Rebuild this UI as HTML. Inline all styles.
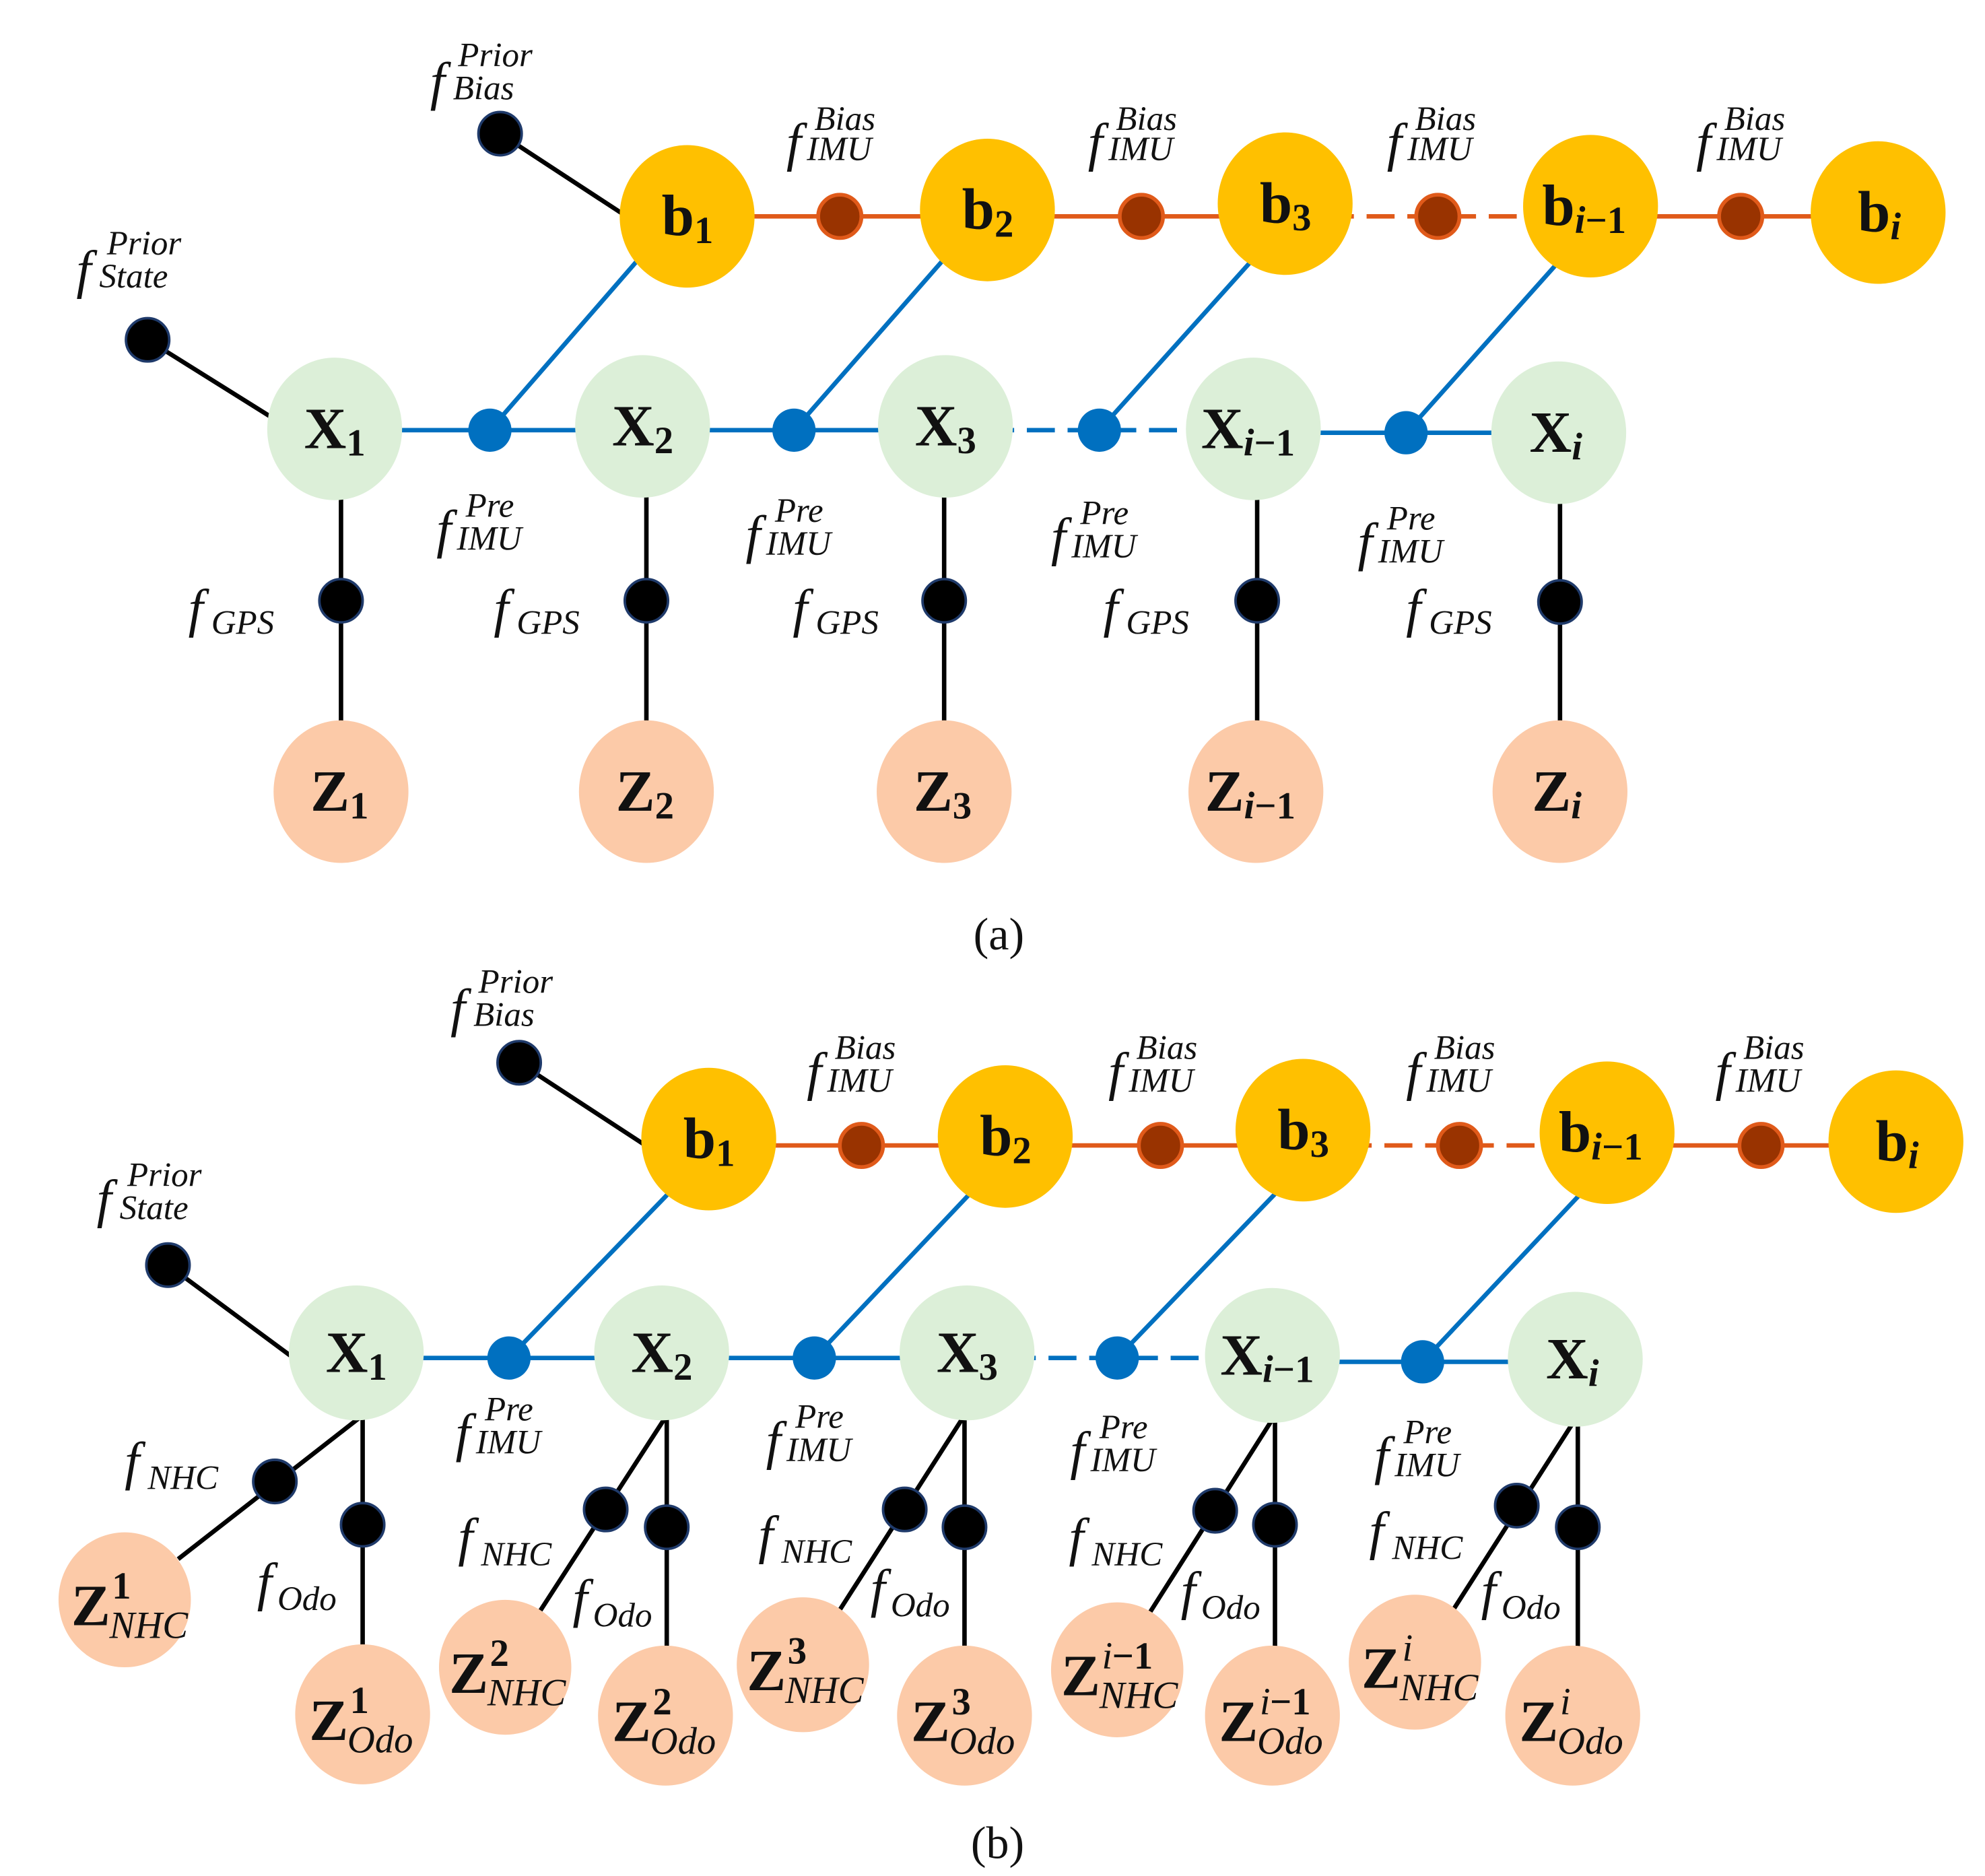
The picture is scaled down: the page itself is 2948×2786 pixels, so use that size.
<!DOCTYPE html>
<html><head><meta charset="utf-8"><style>
html,body{margin:0;padding:0;background:#fff;}
svg{display:block;}
.f{font-family:"Liberation Serif",serif;font-style:italic;font-size:42px;fill:#111;}
.s{font-family:"Liberation Serif",serif;font-style:italic;font-size:27px;fill:#111;}
.n{font-family:"Liberation Serif",serif;font-weight:bold;font-size:46px;fill:#111;}
.ns{font-family:"Liberation Serif",serif;font-weight:bold;font-size:30px;fill:#111;}
.nsi{font-family:"Liberation Serif",serif;font-style:italic;font-size:30px;fill:#111;}
.cap{font-family:"Liberation Serif",serif;font-size:36px;fill:#111;}
</style></head><body>
<svg width="2948" height="2786" viewBox="0 0 1560 1474" preserveAspectRatio="none" xmlns="http://www.w3.org/2000/svg">
<!-- ===== (a) ===== -->
<g stroke-width="3.5" fill="none">
<line x1="540" y1="170" x2="897" y2="170" stroke="#e05a1a"/>
<line x1="897" y1="170" x2="1010" y2="170" stroke="#e05a1a"/>
<line x1="1010" y1="170" x2="1250" y2="170" stroke="#e05a1a" stroke-dasharray="22,10"/>
<line x1="1250" y1="170" x2="1476" y2="170" stroke="#e05a1a"/>
<line x1="263" y1="338" x2="743" y2="338" stroke="#0070c0"/>
<line x1="743" y1="338" x2="985" y2="338" stroke="#0070c0" stroke-dasharray="22,10"/>
<line x1="985" y1="340" x2="1225" y2="340" stroke="#0070c0"/>
<line x1="385" y1="338" x2="505" y2="200" stroke="#0070c0"/>
<line x1="624" y1="338" x2="745" y2="200" stroke="#0070c0"/>
<line x1="864" y1="338" x2="988" y2="200" stroke="#0070c0"/>
<line x1="1105" y1="340" x2="1230" y2="200" stroke="#0070c0"/>
<line x1="393" y1="105" x2="500" y2="175" stroke="#000"/>
<line x1="116" y1="267" x2="220" y2="332" stroke="#000"/>
<line x1="268" y1="338" x2="268" y2="622" stroke="#000"/>
<line x1="508" y1="338" x2="508" y2="622" stroke="#000"/>
<line x1="742" y1="338" x2="742" y2="622" stroke="#000"/>
<line x1="988" y1="338" x2="988" y2="622" stroke="#000"/>
<line x1="1226" y1="340" x2="1226" y2="622" stroke="#000"/>
</g>
<g fill="#ffc000">
<ellipse cx="540" cy="170" rx="53" ry="56"/><ellipse cx="776" cy="165" rx="53" ry="56"/><ellipse cx="1010" cy="160" rx="53" ry="56"/><ellipse cx="1250" cy="162" rx="53" ry="56"/><ellipse cx="1476" cy="167" rx="53" ry="56"/>
</g>
<g fill="#dcefd8">
<ellipse cx="263" cy="337" rx="53" ry="56"/><ellipse cx="505" cy="335" rx="53" ry="56"/><ellipse cx="743" cy="335" rx="53" ry="56"/><ellipse cx="985" cy="337" rx="53" ry="56"/><ellipse cx="1225" cy="340" rx="53" ry="56"/>
</g>
<g fill="#fccaa8">
<ellipse cx="268" cy="622" rx="53" ry="56"/><ellipse cx="508" cy="622" rx="53" ry="56"/><ellipse cx="742" cy="622" rx="53" ry="56"/><ellipse cx="987" cy="622" rx="53" ry="56"/><ellipse cx="1226" cy="622" rx="53" ry="56"/>
</g>
<g fill="#993300" stroke="#e05a1a" stroke-width="3">
<circle cx="660" cy="170" r="17"/><circle cx="897" cy="170" r="17"/><circle cx="1130" cy="170" r="17"/><circle cx="1368" cy="170" r="17"/>
</g>
<g fill="#0070c0">
<circle cx="385" cy="338" r="17"/><circle cx="624" cy="338" r="17"/><circle cx="864" cy="338" r="17"/><circle cx="1105" cy="340" r="17"/>
</g>
<g fill="#000" stroke="#1f3a6a" stroke-width="2">
<circle cx="393" cy="105" r="17"/><circle cx="116" cy="267" r="17"/>
<circle cx="268" cy="472" r="17"/><circle cx="508" cy="472" r="17"/><circle cx="742" cy="472" r="17"/><circle cx="988" cy="472" r="17"/><circle cx="1226" cy="473" r="17"/>
</g>
<!-- node labels (a) -->
<g transform="translate(-6,3)">
<text class="n" x="526" y="182">b<tspan class="ns" dy="6">1</tspan></text>
<text class="n" x="762" y="177">b<tspan class="ns" dy="6">2</tspan></text>
<text class="n" x="996" y="172">b<tspan class="ns" dy="6">3</tspan></text>
<text class="n" x="1218" y="174">b<tspan class="nsi" dy="6">i</tspan><tspan class="ns">−1</tspan></text>
<text class="n" x="1466" y="179">b<tspan class="nsi" dy="6">i</tspan></text>
<text class="n" x="245" y="349">X<tspan class="ns" dy="6">1</tspan></text>
<text class="n" x="487" y="347">X<tspan class="ns" dy="6">2</tspan></text>
<text class="n" x="725" y="347">X<tspan class="ns" dy="6">3</tspan></text>
<text class="n" x="950" y="349">X<tspan class="nsi" dy="6">i</tspan><tspan class="ns">−1</tspan></text>
<text class="n" x="1208" y="352">X<tspan class="nsi" dy="6">i</tspan></text>
<text class="n" x="250" y="634">Z<tspan class="ns" dy="6">1</tspan></text>
<text class="n" x="490" y="634">Z<tspan class="ns" dy="6">2</tspan></text>
<text class="n" x="724" y="634">Z<tspan class="ns" dy="6">3</tspan></text>
<text class="n" x="953" y="634">Z<tspan class="nsi" dy="6">i</tspan><tspan class="ns">−1</tspan></text>
<text class="n" x="1210" y="634">Z<tspan class="nsi" dy="6">i</tspan></text>
</g>
<!-- factor labels (a) -->
<text class="f" x="338" y="78">f</text><text class="s" x="360" y="52">Prior</text><text class="s" x="356" y="78">Bias</text>
<text class="f" x="60" y="226">f</text><text class="s" x="84" y="200">Prior</text><text class="s" x="78" y="226">State</text>
<g>
<text class="f" x="618" y="126">f</text><text class="s" x="640" y="102">Bias</text><text class="s" x="634" y="126">IMU</text>
<text class="f" x="855" y="126">f</text><text class="s" x="877" y="102">Bias</text><text class="s" x="871" y="126">IMU</text>
<text class="f" x="1090" y="126">f</text><text class="s" x="1112" y="102">Bias</text><text class="s" x="1106" y="126">IMU</text>
<text class="f" x="1333" y="126">f</text><text class="s" x="1355" y="102">Bias</text><text class="s" x="1349" y="126">IMU</text>
</g>
<g>
<text class="f" x="343" y="430">f</text><text class="s" x="366" y="406">Pre</text><text class="s" x="359" y="432">IMU</text>
<text class="f" x="586" y="434">f</text><text class="s" x="609" y="410">Pre</text><text class="s" x="602" y="436">IMU</text>
<text class="f" x="826" y="436">f</text><text class="s" x="849" y="412">Pre</text><text class="s" x="842" y="438">IMU</text>
<text class="f" x="1067" y="440">f</text><text class="s" x="1090" y="416">Pre</text><text class="s" x="1083" y="442">IMU</text>
</g>
<g>
<text class="f" x="148" y="492">f</text><text class="s" x="166" y="498">GPS</text>
<text class="f" x="388" y="492">f</text><text class="s" x="406" y="498">GPS</text>
<text class="f" x="623" y="492">f</text><text class="s" x="641" y="498">GPS</text>
<text class="f" x="867" y="492">f</text><text class="s" x="885" y="498">GPS</text>
<text class="f" x="1105" y="492">f</text><text class="s" x="1123" y="498">GPS</text>
</g>
<text class="cap" x="765" y="746">(a)</text>

<!-- ===== (b) ===== -->
<g stroke-width="3.5" fill="none">
<line x1="557" y1="900" x2="912" y2="900" stroke="#e05a1a"/>
<line x1="912" y1="900" x2="1024" y2="900" stroke="#e05a1a"/>
<line x1="1024" y1="900" x2="1263" y2="900" stroke="#e05a1a" stroke-dasharray="22,10"/>
<line x1="1263" y1="900" x2="1490" y2="900" stroke="#e05a1a"/>
<line x1="280" y1="1067" x2="760" y2="1067" stroke="#0070c0"/>
<line x1="760" y1="1067" x2="1000" y2="1067" stroke="#0070c0" stroke-dasharray="22,10"/>
<line x1="1000" y1="1070" x2="1238" y2="1070" stroke="#0070c0"/>
<line x1="400" y1="1067" x2="528" y2="935" stroke="#0070c0"/>
<line x1="640" y1="1067" x2="765" y2="935" stroke="#0070c0"/>
<line x1="878" y1="1067" x2="1005" y2="935" stroke="#0070c0"/>
<line x1="1118" y1="1070" x2="1245" y2="935" stroke="#0070c0"/>
<line x1="408" y1="835" x2="515" y2="905" stroke="#000"/>
<line x1="132" y1="994" x2="228" y2="1065" stroke="#000"/>
</g>
<g stroke="#000" stroke-width="3.5">
<line x1="285" y1="1112" x2="285" y2="1347"/><line x1="285" y1="1112" x2="140" y2="1225"/>
<line x1="524" y1="1112" x2="524" y2="1348"/><line x1="524" y1="1112" x2="423" y2="1268"/>
<line x1="758" y1="1112" x2="758" y2="1348"/><line x1="758" y1="1112" x2="658" y2="1268"/>
<line x1="1002" y1="1112" x2="1002" y2="1348"/><line x1="1002" y1="1112" x2="903" y2="1268"/>
<line x1="1240" y1="1112" x2="1240" y2="1348"/><line x1="1240" y1="1112" x2="1142" y2="1265"/>
</g>
<g fill="#ffc000">
<ellipse cx="557" cy="895" rx="53" ry="56"/><ellipse cx="790" cy="893" rx="53" ry="56"/><ellipse cx="1024" cy="888" rx="53" ry="56"/><ellipse cx="1263" cy="890" rx="53" ry="56"/><ellipse cx="1490" cy="897" rx="53" ry="56"/>
</g>
<g fill="#dcefd8">
<ellipse cx="280" cy="1063" rx="53" ry="53"/><ellipse cx="520" cy="1063" rx="53" ry="53"/><ellipse cx="760" cy="1063" rx="53" ry="53"/><ellipse cx="1000" cy="1065" rx="53" ry="53"/><ellipse cx="1238" cy="1068" rx="53" ry="53"/>
</g>
<g fill="#fccaa8">
<ellipse cx="98" cy="1257" rx="52" ry="53"/><ellipse cx="285" cy="1347" rx="53" ry="55"/>
<ellipse cx="397" cy="1310" rx="52" ry="53"/><ellipse cx="523" cy="1348" rx="53" ry="55"/>
<ellipse cx="631" cy="1308" rx="52" ry="53"/><ellipse cx="758" cy="1348" rx="53" ry="55"/>
<ellipse cx="878" cy="1312" rx="52" ry="53"/><ellipse cx="1000" cy="1348" rx="53" ry="55"/>
<ellipse cx="1112" cy="1306" rx="52" ry="53"/><ellipse cx="1236" cy="1348" rx="53" ry="55"/>
</g>
<g fill="#993300" stroke="#e05a1a" stroke-width="3">
<circle cx="677" cy="900" r="17"/><circle cx="912" cy="900" r="17"/><circle cx="1147" cy="900" r="17"/><circle cx="1384" cy="900" r="17"/>
</g>
<g fill="#0070c0">
<circle cx="400" cy="1067" r="17"/><circle cx="640" cy="1067" r="17"/><circle cx="878" cy="1067" r="17"/><circle cx="1118" cy="1070" r="17"/>
</g>
<g fill="#000" stroke="#1f3a6a" stroke-width="2">
<circle cx="408" cy="835" r="17"/><circle cx="132" cy="994" r="17"/>
<circle cx="216" cy="1164" r="17"/><circle cx="285" cy="1198" r="17"/>
<circle cx="476" cy="1186" r="17"/><circle cx="524" cy="1200" r="17"/>
<circle cx="711" cy="1186" r="17"/><circle cx="758" cy="1200" r="17"/>
<circle cx="955" cy="1187" r="17"/><circle cx="1002" cy="1198" r="17"/>
<circle cx="1192" cy="1183" r="17"/><circle cx="1240" cy="1200" r="17"/>
</g>
<!-- node labels (b) -->
<g transform="translate(-6,3)">
<text class="n" x="543" y="907">b<tspan class="ns" dy="6">1</tspan></text>
<text class="n" x="776" y="905">b<tspan class="ns" dy="6">2</tspan></text>
<text class="n" x="1010" y="900">b<tspan class="ns" dy="6">3</tspan></text>
<text class="n" x="1231" y="902">b<tspan class="nsi" dy="6">i</tspan><tspan class="ns">−1</tspan></text>
<text class="n" x="1480" y="909">b<tspan class="nsi" dy="6">i</tspan></text>
<text class="n" x="262" y="1075">X<tspan class="ns" dy="6">1</tspan></text>
<text class="n" x="502" y="1075">X<tspan class="ns" dy="6">2</tspan></text>
<text class="n" x="742" y="1075">X<tspan class="ns" dy="6">3</tspan></text>
<text class="n" x="965" y="1077">X<tspan class="nsi" dy="6">i</tspan><tspan class="ns">−1</tspan></text>
<text class="n" x="1221" y="1080">X<tspan class="nsi" dy="6">i</tspan></text>
</g>
<g transform="translate(-4,2)">
<text class="n" x="60" y="1275">Z</text><text class="ns" x="92" y="1254">1</text><text class="nsi" x="90" y="1285">NHC</text>
<text class="n" x="247" y="1365">Z</text><text class="ns" x="279" y="1344">1</text><text class="nsi" x="277" y="1375">Odo</text>
<text class="n" x="357" y="1328">Z</text><text class="ns" x="389" y="1307">2</text><text class="nsi" x="387" y="1338">NHC</text>
<text class="n" x="485" y="1366">Z</text><text class="ns" x="517" y="1345">2</text><text class="nsi" x="515" y="1376">Odo</text>
<text class="n" x="591" y="1326">Z</text><text class="ns" x="623" y="1305">3</text><text class="nsi" x="621" y="1336">NHC</text>
<text class="n" x="720" y="1366">Z</text><text class="ns" x="752" y="1345">3</text><text class="nsi" x="750" y="1376">Odo</text>
<text class="n" x="838" y="1330">Z</text><text class="nsi" x="870" y="1309">i</text><text class="ns" x="878" y="1309">−1</text><text class="nsi" x="868" y="1340">NHC</text>
<text class="n" x="962" y="1366">Z</text><text class="nsi" x="994" y="1345">i</text><text class="ns" x="1002" y="1345">−1</text><text class="nsi" x="992" y="1376">Odo</text>
<text class="n" x="1074" y="1324">Z</text><text class="nsi" x="1106" y="1303">i</text><text class="nsi" x="1104" y="1334">NHC</text>
<text class="n" x="1198" y="1366">Z</text><text class="nsi" x="1230" y="1345">i</text><text class="nsi" x="1228" y="1376">Odo</text>
</g>
<!-- factor labels (b) -->
<text class="f" x="354" y="806">f</text><text class="s" x="376" y="780">Prior</text><text class="s" x="372" y="806">Bias</text>
<text class="f" x="76" y="956">f</text><text class="s" x="100" y="932">Prior</text><text class="s" x="94" y="958">State</text>
<g>
<text class="f" x="634" y="856">f</text><text class="s" x="656" y="832">Bias</text><text class="s" x="650" y="858">IMU</text>
<text class="f" x="871" y="856">f</text><text class="s" x="893" y="832">Bias</text><text class="s" x="887" y="858">IMU</text>
<text class="f" x="1105" y="856">f</text><text class="s" x="1127" y="832">Bias</text><text class="s" x="1121" y="858">IMU</text>
<text class="f" x="1348" y="856">f</text><text class="s" x="1370" y="832">Bias</text><text class="s" x="1364" y="858">IMU</text>
</g>
<g>
<text class="f" x="358" y="1140">f</text><text class="s" x="381" y="1116">Pre</text><text class="s" x="374" y="1142">IMU</text>
<text class="f" x="602" y="1146">f</text><text class="s" x="625" y="1122">Pre</text><text class="s" x="618" y="1148">IMU</text>
<text class="f" x="841" y="1154">f</text><text class="s" x="864" y="1130">Pre</text><text class="s" x="857" y="1156">IMU</text>
<text class="f" x="1080" y="1158">f</text><text class="s" x="1103" y="1134">Pre</text><text class="s" x="1096" y="1160">IMU</text>
</g>
<g>
<text class="f" x="98" y="1162">f</text><text class="s" x="116" y="1170">NHC</text>
<text class="f" x="360" y="1222">f</text><text class="s" x="378" y="1230">NHC</text>
<text class="f" x="596" y="1220">f</text><text class="s" x="614" y="1228">NHC</text>
<text class="f" x="840" y="1222">f</text><text class="s" x="858" y="1230">NHC</text>
<text class="f" x="1076" y="1217">f</text><text class="s" x="1094" y="1225">NHC</text>
<text class="f" x="202" y="1257">f</text><text class="s" x="218" y="1265">Odo</text>
<text class="f" x="450" y="1270">f</text><text class="s" x="466" y="1278">Odo</text>
<text class="f" x="684" y="1262">f</text><text class="s" x="700" y="1270">Odo</text>
<text class="f" x="928" y="1264">f</text><text class="s" x="944" y="1272">Odo</text>
<text class="f" x="1164" y="1264">f</text><text class="s" x="1180" y="1272">Odo</text>
</g>
<text class="cap" x="763" y="1460">(b)</text>
</svg>
</body></html>
